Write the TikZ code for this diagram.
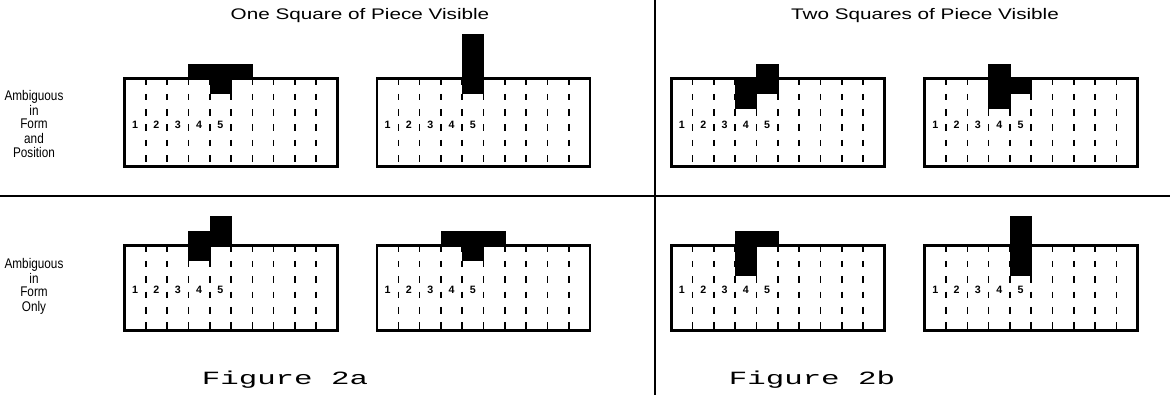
\documentclass[tikz,border=0pt]{standalone}
\usepackage{fontspec}
\setmainfont{Liberation Sans}
\setmonofont{Liberation Mono}
\usepackage{graphicx}
\usetikzlibrary{positioning}

\tikzset{
    boardframe/.style={draw=black, line width=2pt},
    slotline/.style={draw=black, line width=1.2pt, dash pattern=on 5pt off 6.5pt},
    slotnum/.style={font=\fontsize{8}{8}\selectfont\bfseries, inner sep=0pt},
    piece/.style={fill=black, draw=black, line width=0.3pt},
    rowlabel/.style={font=\fontsize{10.5}{11}\selectfont, inner sep=0pt},
    headtitle/.style={font=\fontsize{11.5}{12}\selectfont, inner sep=0pt},
    figlabel/.style={font=\ttfamily\fontsize{14}{14}\selectfont, inner sep=0pt},
    divider/.style={draw=black, line width=1pt}
}

% board: name, left, top, height
\newcommand{\board}[4]{%
    \draw[boardframe] (#2,#3) rectangle ++(213,#4);
    \foreach \k in {1,...,9}
        \draw[slotline] (#2+\k*21.3,#3) -- ++(0,#4);
    \foreach \k in {1,...,5}
        \node[slotnum] (#1-\k) at (#2+\k*21.3-10.65,#3+#4/2+2) {\k};
}
% cell of a piece: left, top, column, row (row 1 = first row inside)
\newcommand{\cell}[4]{%
    \fill[piece] (#1+#3*21.3-21.3,#2+#4*14.7-14.7) rectangle ++(21.3,14.7);
}
% narrow stacked label lines
\newcommand{\stacklabel}[1]{\scalebox{0.84}[1]{\renewcommand{\arraystretch}{0.93}\begin{tabular}{@{}c@{}}#1\end{tabular}}}

\begin{document}
\begin{tikzpicture}[x=0.75pt, y=-0.75pt]
    \useasboundingbox (0,0) rectangle (1170,395);

    % Dividers
    \coordinate (vtop) at (655,0);
    \coordinate (vbot) at (655,395);
    \coordinate (hleft) at (0,196);
    \coordinate (hright) at (1170,196);
    \draw[divider] (vtop) -- (vbot);
    \draw[divider] (hleft) -- (hright);

    % Column titles
    \node[headtitle] (onesq) at (360,16) {\scalebox{1.35}[1]{One Square of Piece Visible}};
    \node[headtitle] (twosq) at (925,16) {\scalebox{1.35}[1]{Two Squares of Piece Visible}};

    % Row labels
    \node[rowlabel] (formpos) at (34,126) {\stacklabel{Ambiguous\\in\\Form\\and\\Position}};
    \node[rowlabel] (formonly) at (34,287) {\stacklabel{Ambiguous\\in\\Form\\Only}};

    % Top row, one square visible
    \cell{124.5}{78.5}{4}{0} \cell{124.5}{78.5}{5}{0} \cell{124.5}{78.5}{6}{0} \cell{124.5}{78.5}{5}{1}
    \board{b1}{124.5}{78.5}{88}
    \cell{377}{78.5}{5}{-2} \cell{377}{78.5}{5}{-1} \cell{377}{78.5}{5}{0} \cell{377}{78.5}{5}{1}
    \board{b2}{377}{78.5}{88}

    % Top row, two squares visible
    \cell{671.3}{78.5}{4}{1} \cell{671.3}{78.5}{4}{2} \cell{671.3}{78.5}{5}{0} \cell{671.3}{78.5}{5}{1}
    \board{b3}{671.3}{78.5}{88}
    \cell{924.7}{78.5}{4}{0} \cell{924.7}{78.5}{4}{1} \cell{924.7}{78.5}{4}{2} \cell{924.7}{78.5}{5}{1}
    \board{b4}{924.7}{78.5}{88}

    % Bottom row, one square visible
    \cell{124.5}{245.5}{4}{0} \cell{124.5}{245.5}{4}{1} \cell{124.5}{245.5}{5}{-1} \cell{124.5}{245.5}{5}{0}
    \board{b5}{124.5}{245.5}{84.7}
    \cell{377}{245.5}{4}{0} \cell{377}{245.5}{5}{0} \cell{377}{245.5}{6}{0} \cell{377}{245.5}{5}{1}
    \board{b6}{377}{245.5}{84.7}

    % Bottom row, two squares visible
    \cell{671.3}{245.5}{4}{0} \cell{671.3}{245.5}{5}{0} \cell{671.3}{245.5}{4}{1} \cell{671.3}{245.5}{4}{2}
    \board{b7}{671.3}{245.5}{84.7}
    \cell{924.7}{245.5}{5}{-1} \cell{924.7}{245.5}{5}{0} \cell{924.7}{245.5}{5}{1} \cell{924.7}{245.5}{5}{2}
    \board{b8}{924.7}{245.5}{84.7}

    % Figure captions
    \node[figlabel] (figa) at (285,380) {\scalebox{1.65}[1]{Figure 2a}};
    \node[figlabel] (figb) at (812,380) {\scalebox{1.65}[1]{Figure 2b}};
\end{tikzpicture}
\end{document}
